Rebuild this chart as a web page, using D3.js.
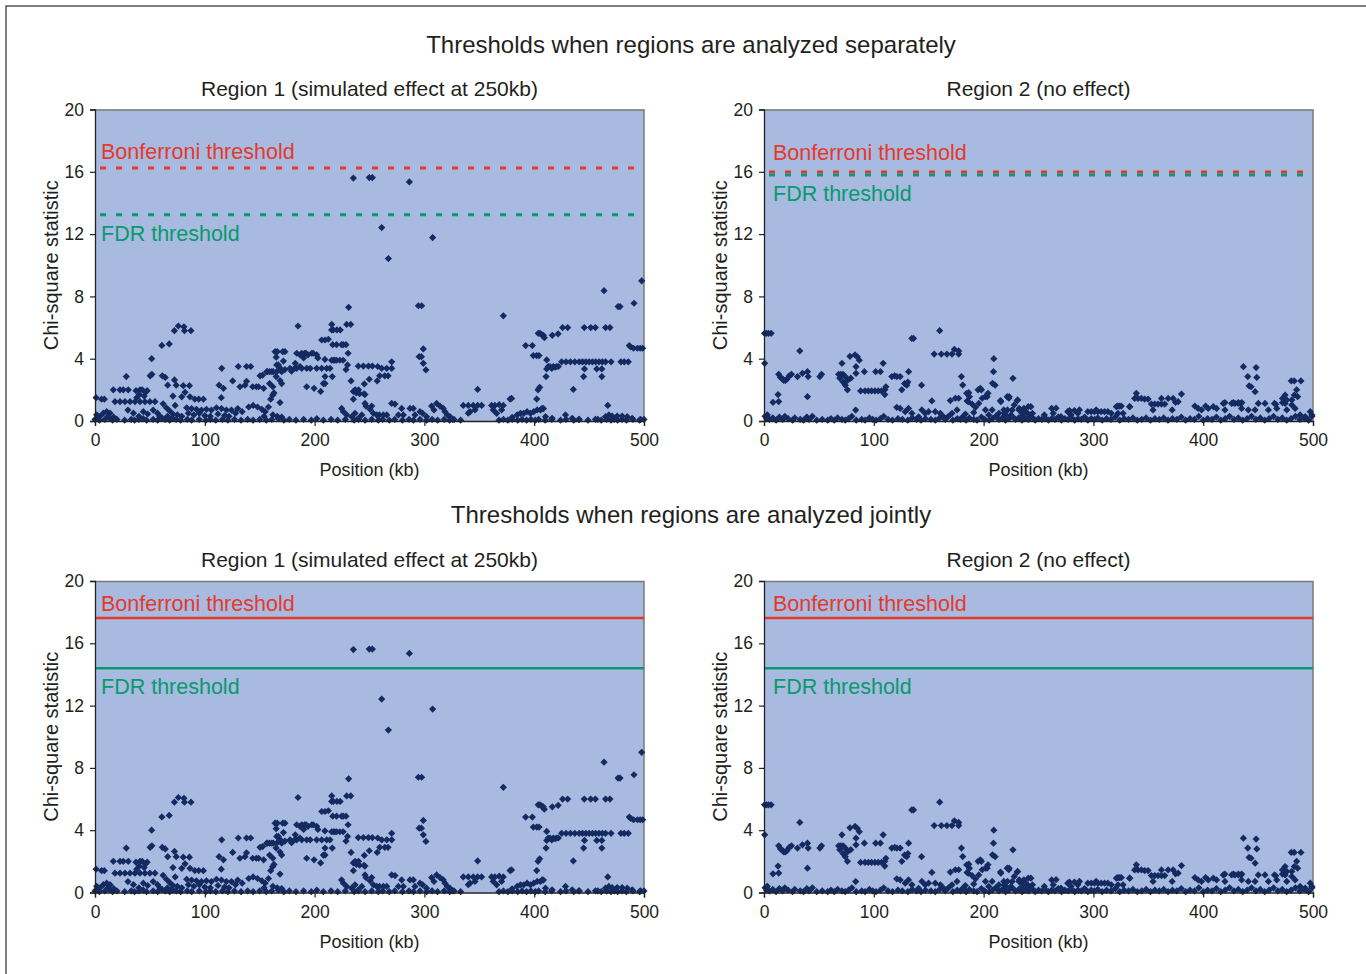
<!DOCTYPE html>
<html>
<head>
<meta charset="utf-8">
<script src="https://cdn.jsdelivr.net/npm/d3@7"></script>
<style>
  body { margin: 0; background: #fff; }
  text { font-family: "Liberation Sans", Arial, sans-serif; fill: #231f20; }
</style>
</head>
<body>
<div id="container"></div>
<script>
// ---------- DATA ----------
const sectionTitles = ["Thresholds when regions are analyzed separately", "Thresholds when regions are analyzed jointly"];
const regionTitles = ["Region 1 (simulated effect at 250kb)", "Region 2 (no effect)"];
const xTicks = [0, 100, 200, 300, 400, 500];
const yTicks = [0, 4, 8, 12, 16, 20];

// [region1, region2]
const bonfSeparate = [16.25, 15.98];
const fdrSeparate = [13.25, 15.8];
const bonfJoint = [17.63, 17.63];
const fdrJoint = [14.4, 14.4];

// [position kb, chi-square]
const region1 = [
  [1,1.5],[6,1.4],[8.5,1.4],[1.5,0.4],[4.5,0.3],[7.6,0.5],[10.6,0.6],[13.7,0.5],[12,0.3],[17,0.25],
  [16.7,2.0],[22.8,2.0],[25.8,2.0],[30.3,2.0],[37.3,1.95],[41,2.0],[43,2.0],[47.5,1.95],[28.5,2.85],
  [18.2,1.24],[22.8,1.24],[27.3,1.24],[31.9,1.24],[36.4,1.24],[41,1.24],[45.5,1.24],[50,1.24],[54.6,1.24],
  [40.3,1.7],[44.8,1.6],[38,1.5],[46,1.85],[30,0.7],[35,0.5],[40,0.3],[44,0.6],[48,0.45],
  [51.6,4.0],[50.2,2.9],[51.8,3.0],[60.9,4.85],[67.6,4.95],[61.3,2.9],[64,2.8],[66.2,2.3],
  [72.3,5.8],[75.9,6.1],[81,6.05],[81.5,5.8],[87.4,5.8],
  [72.4,2.64],[74,2.3],[80.4,2.27],[86,2.27],[82,1.84],
  [71,1.6],[79,1.55],[86.5,1.55],[90.9,1.41],[94.5,1.41],[98.7,1.4],
  [53,0.7],[57,0.5],[59,0.3],[62,1.1],[65,0.85],[68,0.65],[71,0.45],[75,0.4],[66,0.3],[70,0.2],[73,1.0],[79,0.3],
  [83.5,0.85],[88,0.8],[92.4,0.75],[97,0.7],[101.5,0.75],[106,0.7],[110.6,0.85],[115.2,0.8],[119.7,0.7],[124.3,0.7],
  [85,0.5],[90,0.4],[95,0.5],[100,0.35],[105,0.3],[112,0.45],[118,0.35],[122,0.3],[128,0.5],
  [115.4,3.38],[113,2.3],[117,2.1],[115,1.5],[125.4,2.57],
  [130.5,3.5],[138,3.5],[141.8,3.5],[132,2.2],[136.6,2.3],[138,2.55],[143.6,2.2],[147,2.2],[149,2.2],[153.6,2.1],
  [150.3,2.9],[152.7,2.95],[157,3.17],[159,3.17],[162.4,3.17],[159,2.4],[162,2.2],[161.8,1.66],[160,1.4],[163,1.8],
  [164,4.45],[166,4.45],[165,4.1],[171,4.45],[173,4.45],[167,3.6],[168.5,3.4],[173,3.3],[165,2.85],[168.5,2.6],[170,2.4],[168.5,1.18],
  [130,0.8],[134,0.6],[140,0.9],[144,1.0],[148,0.9],[152,0.75],[155,0.6],[158,0.9],[162,0.4],[166,0.3],[170,0.25],[154,0.3],
  [156.4,3.17],[161,3.17],[165.5,3.17],[170,3.17],[177.6,3.38],[183.7,3.38],[188.3,3.38],[192.8,3.38],[196,3.38],[201.9,3.38],[206.5,3.38],[211,3.38],[214,3.38],
  [179,3.2],[182,3.4],[186.7,3.5],[171.6,3.85],[165.5,3.6],[182.4,3.7],
  [183.7,4.35],[186.7,4.25],[188.3,4.35],[191,4.35],[192.2,4.35],[194,4.25],[197.4,4.35],[198.7,4.35],[201.9,4.25],
  [190,4.05],[203,4.05],[209.4,3.95],[215.5,3.9],[218.5,3.9],[223,3.9],[217,3.9],[220,3.9],[226,3.9],
  [184.9,6.1],[192.8,2.2],[199.5,2.1],[205.5,1.9],[209.5,2.4],[216.1,2.85],[208,2.4],[209.5,2.85],
  [206.5,5.2],[209.5,5.2],[212.5,5.25],[215.5,5.85],[217,5.85],[220.3,5.85],[223.3,5.85],[215.6,6.2],
  [216.5,4.9],[220,4.9],[224.6,4.9],[228.6,4.9],[226,4.9],
  [229.2,6.2],[232.9,6.2],[231,7.3],[230.5,4.35],[230,3.6],[228.6,3.3],
  [235.3,15.6],[249.8,15.63],[252.6,15.63],[286.3,15.35],[261.1,12.42],[307.5,11.78],[267.2,10.43],
  [233.2,2.57],[239.8,3.53],[244.4,3.53],[249,3.53],[252.6,3.53],[257.5,3.5],[261.1,3.38],[265.7,3.38],[270.2,3.38],[270.2,3.8],
  [259.3,2.9],[263.9,2.9],[266.9,2.9],[257,2.57],[249.8,2.68],[245.3,2.38],
  [235.3,1.9],[238,1.8],[241,1.75],[245,1.75],[235.3,1.4],[237,2.0],[240,2.0],[245.8,1.7],
  [294.5,7.4],[297.5,7.4],[299,4.63],[295.2,4.13],[297.3,4.13],[299,3.7],[301.4,3.28],
  [224.6,0.81],[226.2,0.6],[229.2,0.39],[233.8,0.28],[236.8,0.49],[239.8,0.17],[243,0.39],[245.9,1.13],[246.8,0.96],[250.5,0.75],
  [252,0.96],[253.5,0.49],[256.6,0.39],[259,0.39],[262.6,0.39],[265.7,0.39],[270.2,1.13],[273.2,1.09],[276.3,0.39],[279.3,0.81],
  [280.8,0.39],[286.9,0.81],[289.9,0.81],[291.4,0.39],[296,0.6],[298.4,0.49],[302,0.28],[306.6,0.96],[308.7,0.71],[311.1,1.13],
  [314.2,0.96],[317.2,0.81],[318.7,0.6],[320.9,0.39],[323.3,0.28],[325.8,0.11],
  [335.4,1.0],[340,1.0],[344.5,1.0],[348.5,1.0],[352.1,1.0],[340,0.5],[341.6,0.6],[346.1,0.71],[348.5,2.03],
  [361.2,1.0],[364.2,1.0],[368.1,1.05],[371.8,1.0],[365.8,0.49],[362.7,0.71],[370.3,0.71],[371.9,6.75],[378,1.41],[379.4,1.45],
  [379.9,0.24],[384.4,0.39],[387.5,0.49],[390.5,0.49],[393.5,0.6],[396.6,0.49],[399.6,0.6],[402.7,0.71],[405.7,0.71],[407.2,0.81],
  [410.3,0.28],[416.3,0.17],[428.5,0.39],[434.6,0.17],[440.7,0.11],[455.8,0.11],[464.9,0.28],[468,0.39],[471,0.32],[475.6,0.32],
  [480.1,0.32],[484.7,0.28],[489.2,0.17],[496.8,0.11],
  [392.2,4.84],[398.3,4.84],[399.2,4.2],[402.3,4.2],[404.4,4.2],[403.7,5.63],[405.3,5.63],[406.8,5.55],[408.3,5.5],[409.2,5.35],[416.5,5.5],[421.8,5.6],
  [411.4,3.92],[412.8,3.5],[414.4,3.5],[417.4,3.5],[420.5,3.5],[410.8,2.85],[411.4,3.34],[416,3.38],[419,3.45],[422,3.5],
  [405,2.16],[403.5,2.0],[402.3,1.41],[408.4,0.8],[435.6,2.03],[467,1.0],
  [425.9,6.0],[430.5,6.0],[445.6,6.0],[451.5,6.0],[455.7,6.0],[465,6.0],[469,6.0],
  [425,3.8],[429,3.8],[433,3.8],[437,3.8],[441,3.8],[444,3.8],[447,3.8],[450,3.8],[453,3.8],[456,3.8],[459,3.8],[462,3.8],[465,3.8],[470,3.8],[479,3.8],[482,3.8],[485.7,3.8],
  [445.8,3.34],[457,3.34],[461.6,3.34],[445,2.85],[461.6,2.85],
  [463.6,8.37],[476.4,7.35],[478.2,7.35],[490.9,7.56],[497.9,9.0],
  [486.6,4.84],[488,4.75],[490.5,4.67],[494,4.67],[496.5,4.67],[498.8,4.67],
  // points lying on the axis
  [0,0.1],[2,0.15],[4,0.05],[9,0.1],[13,0.2],[16,0.05],[20,0.1],[27,0.05],[33,0.1],[36,0.05],[40,0.1],[44,0.15],[47,0.05],
  [53,0.1],[57,0.05],[61,0.2],[64,0.1],[68,0.05],[71,0.15],[74,0.1],[78,0.05],[84,0.1],[88,0.05],[95,0.1],[101,0.05],[105,0.1],
  [110,0.05],[116,0.1],[121,0.05],[127,0.1],[133,0.05],[139,0.1],[144,0.05],[150,0.1],[156,0.05],[161,0.1],[167,0.15],[172,0.05],
  [177,0.1],[183,0.05],[190,0.1],[197,0.05],[202,0.15],[208,0.05],[215,0.1],[221,0.05],[228,0.1],[236,0.05],[240,0.1],[246,0.05],
  [252,0.1],[258,0.05],[262,0.1],[268,0.05],[273,0.1],[280,0.05],[286,0.1],[290,0.05],[296,0.1],[302,0.05],[307,0.1],[312,0.05],
  [318,0.1],[323,0.05],[327,0.1],[333,0.05],[368,0.05],[372,0.1],[376,0.05],[380,0.1],[385,0.05],[389,0.1],[393,0.05],[397,0.1],
  [401,0.05],[404,0.1],[410,0.05],[416,0.1],[424,0.05],[429,0.1],[436,0.05],[441,0.1],[449,0.05],[458,0.1],[461,0.05],[466,0.1],
  [470,0.05],[473,0.1],[476,0.05],[480,0.1],[484,0.05],[490,0.1],[496,0.05],[500,0.1]
];

const region2 = [
  [0.5,5.63],[2,5.63],[4,5.63],[6.5,5.63],[0.6,3.7],[32.6,4.5],[134.6,5.3],[136.2,5.3],[160,5.8],
  [155,4.3],[161.5,4.3],[166.6,4.3],[171.2,4.3],[177.3,4.3],[173.4,4.6],[177.3,4.5],
  [209.3,4.0],[209,3.17],[208.1,2.42],[210.5,2.3],
  [13.4,3.0],[15,2.8],[17,2.7],[19.5,2.6],[21,2.7],[23,2.9],[25,3.0],[18,2.6],
  [30.5,2.85],[35,3.06],[39.6,3.17],[40.2,2.85],[50.9,2.85],[52.4,3.0],
  [68,3.0],[70,3.0],[72,3.0],[74,2.85],[69,2.75],[72,2.5],[74,2.3],[76,2.6],[79,2.75],[71,3.7],[76,2.0],
  [78.3,4.15],[82.9,4.24],[85,4.12],[86.8,3.9],[83.8,3.49],[83.8,3.06],[91.4,3.17],
  [101.7,3.17],[106,3.17],[108.5,3.7],
  [88,1.93],[92,1.93],[95,1.93],[98,1.93],[101,1.93],[104,1.93],[107,1.93],[110,2.0],[111,2.2],[110,1.7],
  [116.4,2.85],[121,2.85],[124,2.85],[119,2.9],[131.7,3.17],[128,2.4],[130,2.3],[131,2.5],[125.5,2.0],[143.5,2.3],
  [12.8,1.7],[13.4,1.25],[8.2,1.2],[39.6,1.56],[83.5,0.7],
  [152.9,1.29],[169.7,1.31],[174.3,1.46],[177.3,1.46],[179.8,2.85],[181,2.31],[185,1.29],[186.5,1.82],[187.1,1.56],[189.5,1.09],
  [192.6,0.88],[195.6,1.13],[198,2.0],[198.7,1.46],[203.2,1.56],[207.8,0.71],[215.4,1.31],[221.5,1.56],[223,1.46],[226.7,2.74],
  [230.6,1.31],[232.2,0.71],[236.7,0.81],[240.7,0.92],[244.5,0.49],[184.6,1.78],[186,1.24],[195,2.0],[197,2.1],[201.6,1.56],[204,1.78],
  [120.9,0.88],[124,0.81],[128.6,0.6],[131.6,0.81],[134.7,0.49],[140.8,0.27],[143.8,0.71],[146.8,0.49],[149.9,0.6],[156,0.6],
  [160.6,0.49],[163.6,0.27],[171.2,0.49],[175.8,0.71],[181,0.27],[183.4,0.45],[191,0.54],[201.7,0.71],[204.7,0.39],[213.9,0.49],
  [218.4,0.71],[220,0.39],[226,0.71],[235.2,0.49],[241.3,0.27],
  [215.7,1.24],[223.3,1.56],[231,1.35],[227.9,1.03],[232.5,0.81],[237,0.71],[243.1,0.92],[221.8,0.71],[218.8,0.49],[224.9,0.39],
  [235.5,0.39],[240.1,0.49],[262,0.81],[263.4,0.49],[255.3,0.39],[276.6,0.6],[279.6,0.39],[270.5,0.28],[285.8,0.49],
  [266,0.82],[278.2,0.67],[282.7,0.67],[287.3,0.71],[302.5,0.71],[322.3,0.96],[325.4,0.96],[333,0.92],
  [294.9,0.6],[298,0.6],[301,0.6],[304.1,0.6],[307.1,0.6],[310.2,0.6],[313.2,0.6],[316.3,0.49],[320.9,0.92],[323.9,0.96],[327,0.49],[333.1,0.92],
  [339.1,1.78],[337.6,1.45],[340.6,1.45],[343.7,1.45],[346.7,1.41],[349.8,1.41],[352.8,1.09],[355.9,1.09],[358.9,1.09],[362,1.09],
  [365,1.09],[362,1.45],[368.1,1.45],[372.6,1.45],[374.8,1.2],[380.2,1.73],[377.2,1.24],[371.7,0.71],[354.3,0.71],[322.4,0.49],
  [392.4,0.96],[395.4,0.81],[398.5,0.71],[402.2,0.96],[404.6,0.81],[409.2,0.92],[412.2,0.81],[418.3,1.13],[419.8,0.71],[425.9,1.13],
  [428.9,1.13],[432,1.13],[434.4,1.13],[435,0.81],[441.1,0.71],[447.2,0.71],[450.2,1.13],[456.3,1.13],[459.4,0.71],[464.9,1.13],
  [467,0.81],[472.2,1.18],[474.6,1.13],[476.1,0.71],[480.7,1.03],[483.7,0.81],[488.3,0.39],[492.9,0.28],[497.5,0.6],[499,0.39],
  [419.8,1.18],[427.5,1.18],[432,1.18],[435.1,1.18],
  [436.6,3.49],[448.2,3.43],[440.6,2.85],[448.8,2.8],[441.8,2.25],[443.6,2.2],[447.3,1.88],
  [480.2,2.57],[482.9,2.57],[489,2.57],[485.1,2.0],[483,1.67],[486,1.56],[480.7,1.35],[474.6,1.67],[472.2,1.45],[476.1,1.35],[466.1,1.07],
  // points lying on the axis
  [1,0.3],[2.5,0.15],[3,0.4],[5,0.1],[8,0.2],[11,0.05],[14,0.25],[17,0.1],[19,0.3],[22,0.15],[26,0.05],[28,0.2],[33,0.1],[36,0.05],
  [39,0.25],[41,0.1],[44,0.3],[48,0.05],[53,0.1],[58,0.05],[61,0.15],[64,0.05],[67,0.2],[71,0.1],[74,0.05],[77,0.15],[80,0.3],
  [84,0.05],[89,0.1],[92,0.05],[96,0.2],[99,0.1],[102,0.05],[106,0.15],[109,0.3],[113,0.1],[117,0.05],[122,0.15],[126,0.1],
  [131,0.05],[135,0.2],[139,0.1],[143,0.05],[147,0.15],[152,0.1],[156,0.05],[160,0.2],[165,0.1],[168,0.3],[172,0.05],[176,0.15],
  [179,0.1],[184,0.05],[187,0.2],[191,0.1],[194,0.05],[198,0.25],[201,0.1],[205,0.05],[208,0.15],[211,0.3],[214,0.1],[217,0.2],
  [220,0.05],[223,0.15],[226,0.3],[229,0.1],[232,0.2],[235,0.05],[238,0.15],[241,0.1],[244,0.25],[247,0.05],[250,0.15],[253,0.1],
  [256,0.2],[259,0.05],[262,0.15],[265,0.1],[268,0.25],[271,0.05],[274,0.15],[277,0.1],[280,0.2],[283,0.05],[286,0.15],[289,0.1],
  [292,0.25],[295,0.05],[298,0.15],[301,0.1],[304,0.2],[308,0.05],[312,0.15],[316,0.1],[320,0.25],[324,0.05],[328,0.15],[332,0.1],
  [336,0.2],[340,0.05],[344,0.1],[348,0.2],[352,0.05],[356,0.15],[360,0.1],[364,0.2],[368,0.05],[372,0.15],[376,0.1],[380,0.25],
  [384,0.05],[388,0.15],[392,0.1],[396,0.3],[400,0.05],[404,0.15],[408,0.1],[412,0.25],[416,0.05],[420,0.15],[424,0.3],[428,0.1],
  [432,0.2],[436,0.05],[440,0.15],[444,0.3],[448,0.1],[452,0.2],[456,0.05],[460,0.15],[464,0.3],[468,0.1],[472,0.2],[476,0.05],
  [480,0.15],[484,0.3],[488,0.1],[492,0.2],[496,0.05],[499,0.3]
];

// ---------- LAYOUT ----------
const width = 1366, height = 974;
const red = "#e5392b", green = "#079a6c", navy = "#132b61", plotBg = "#a8bae0";

const svg = d3.select("#container").append("svg")
  .attr("width", width)
  .attr("height", height)

// outer frame (right and bottom edges fall outside the picture)
svg.append("rect")
  .attr("x", 6).attr("y", 6)
  .attr("width", 1400).attr("height", 1000)
  .attr("fill", "none").attr("stroke", "#555").attr("stroke-width", 1.5)

svg.append("text").attr("x", 691).attr("y", 53).attr("text-anchor", "middle")
  .style("font-size", "24px").text(sectionTitles[0])
svg.append("text").attr("x", 691).attr("y", 523).attr("text-anchor", "middle")
  .style("font-size", "24px").text(sectionTitles[1])

// Excel-like diamond marker
const diamond = {
  draw(ctx, size) {
    const r = Math.sqrt(size) / 2;
    ctx.moveTo(0, -r); ctx.lineTo(r, 0); ctx.lineTo(0, r); ctx.lineTo(-r, 0); ctx.closePath();
  }
}

const panels = [
  { left: 95, top: 109.5, data: region1, title: 0, bonf: bonfSeparate[0], fdr: fdrSeparate[0], dashed: true, up: 9 },
  { left: 764, top: 109.5, data: region2, title: 1, bonf: bonfSeparate[1], fdr: fdrSeparate[1], dashed: true, up: 12 },
  { left: 95, top: 581, data: region1, title: 0, bonf: bonfJoint[0], fdr: fdrJoint[0], dashed: false, up: 7 },
  { left: 764, top: 581, data: region2, title: 1, bonf: bonfJoint[1], fdr: fdrJoint[1], dashed: false, up: 7 }
]
const pw = 549, ph = 311.5;

panels.forEach(p => {
  const g = svg.append("g").attr("transform", `translate(${p.left},${p.top})`)

  const xScale = d3.scaleLinear().domain([0, 500]).range([0, pw])
  const yScale = d3.scaleLinear().domain([0, 20]).range([ph, 0])

  g.append("rect").attr("width", pw).attr("height", ph).attr("fill", plotBg)
  // top and right border in grey
  g.append("path").attr("d", `M0,0.5H${pw}V${ph}`).attr("fill", "none")
    .attr("stroke", "#7a7a7a").attr("stroke-width", 1.5)

  // threshold lines
  const lineW = p.dashed ? 3 : 2.5
  const x1 = p.dashed ? 5 : 0, x2 = p.dashed ? pw - 3 : pw
  g.append("line").attr("x1", x1).attr("x2", x2)
    .attr("y1", yScale(p.bonf)).attr("y2", yScale(p.bonf))
    .attr("stroke", red).attr("stroke-width", lineW)
    .attr("stroke-dasharray", p.dashed ? "6,10" : null)
  g.append("line").attr("x1", x1).attr("x2", x2)
    .attr("y1", yScale(p.fdr)).attr("y2", yScale(p.fdr))
    .attr("stroke", green).attr("stroke-width", lineW)
    .attr("stroke-dasharray", p.dashed ? "6,10" : null)

  const lx = p.left === 95 ? 6 : 9
  g.append("text").attr("x", lx).attr("y", yScale(p.bonf) - p.up)
    .style("fill", red).style("font-size", "21.5px").text("Bonferroni threshold")
  g.append("text").attr("x", lx).attr("y", yScale(p.fdr) + 26)
    .style("fill", green).style("font-size", "21.5px").text("FDR threshold")

  // points
  g.selectAll("path.pt")
    .data(p.data)
    .join("path")
    .attr("class", "pt")
    .attr("transform", d => `translate(${xScale(d[0])},${yScale(d[1])})`)
    .attr("d", d3.symbol(diamond, 52))
    .attr("fill", navy)

  // axes
  const xAxis = g.append("g").attr("transform", `translate(0,${ph})`)
    .call(d3.axisBottom(xScale).tickValues(xTicks).tickSize(5).tickPadding(8))
  const yAxis = g.append("g")
    .call(d3.axisLeft(yScale).tickValues(yTicks).tickSize(5).tickPadding(6))
  ;[xAxis, yAxis].forEach(a => {
    a.select(".domain").attr("stroke", "#222").attr("stroke-width", 1.3)
    a.selectAll(".tick line").attr("stroke", "#222").attr("stroke-width", 1.2)
    a.selectAll(".tick text").style("font-size", "17.5px").style("font-family", "\"Liberation Sans\", Arial, sans-serif").attr("fill", "#231f20")
  })

  g.append("text").attr("x", pw / 2).attr("y", -14).attr("text-anchor", "middle")
    .style("font-size", "21px").text(regionTitles[p.title])
  g.append("text").attr("x", pw / 2).attr("y", ph + 55).attr("text-anchor", "middle")
    .style("font-size", "18px").text("Position (kb)")
  g.append("text")
    .attr("transform", `translate(-37,${ph / 2}) rotate(-90)`)
    .attr("text-anchor", "middle")
    .style("font-size", "20px").text("Chi-square statistic")
})
</script>
</body>
</html>
